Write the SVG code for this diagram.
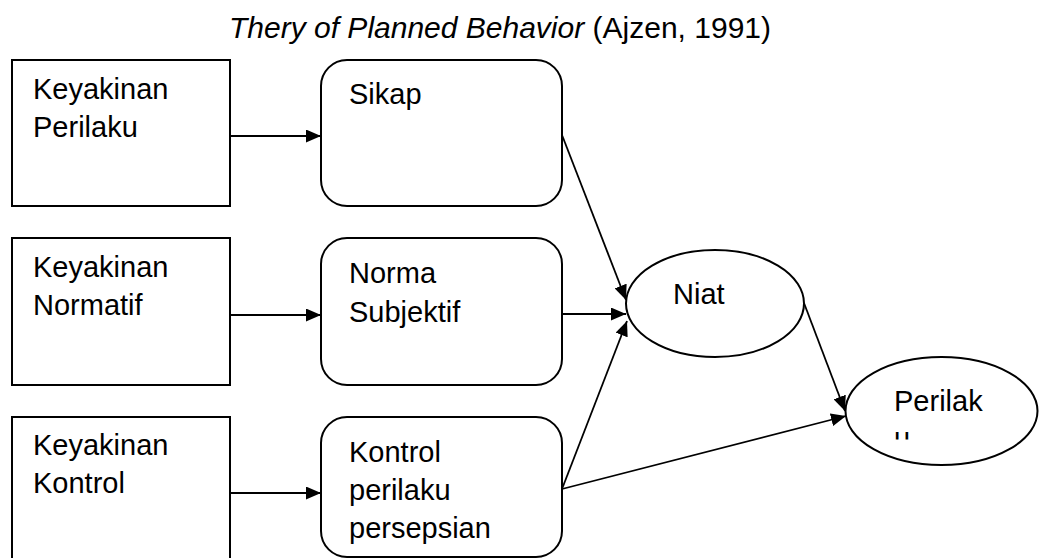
<svg xmlns="http://www.w3.org/2000/svg" width="1040" height="558" viewBox="0 0 1040 558">
<style>
  text { font-family: "Liberation Sans", Arial, sans-serif; font-size: 29px; fill: #000; }
  .title { font-size: 30px; }
  .box { fill: #fff; stroke: #000; stroke-width: 2; }
  .conn { stroke: #000; stroke-width: 1.8; fill: none; marker-end: url(#arrow); }
</style>
<defs>
  <marker id="arrow" markerUnits="userSpaceOnUse" markerWidth="16" markerHeight="13" refX="15" refY="6.5" orient="auto">
    <path d="M0,0 L15,6.5 L0,13 z" fill="#000"/>
  </marker>
  <clipPath id="clipU"><rect x="880" y="420" width="40" height="19.5"/></clipPath>
</defs>
<rect width="1040" height="558" fill="#fff"/>

<g id="title">
  <text class="title" x="229" y="38"><tspan font-style="italic">Thery of Planned Behavior</tspan> (Ajzen, 1991)</text>
</g>

<g id="keyakinan-perilaku">
  <rect class="box" x="12" y="60" width="218" height="146"/>
  <text x="33" y="99">Keyakinan</text>
  <text x="33" y="137">Perilaku</text>
</g>
<g id="keyakinan-normatif">
  <rect class="box" x="12" y="238" width="218" height="147"/>
  <text x="33" y="277">Keyakinan</text>
  <text x="33" y="315">Normatif</text>
</g>
<g id="keyakinan-kontrol">
  <rect class="box" x="12" y="417" width="218" height="150"/>
  <text x="33" y="455">Keyakinan</text>
  <text x="33" y="493">Kontrol</text>
</g>

<g id="sikap">
  <rect class="box" x="321" y="60" width="241" height="146" rx="26" ry="26"/>
  <text x="349" y="104">Sikap</text>
</g>
<g id="norma-subjektif">
  <rect class="box" x="321" y="238" width="241" height="147" rx="26" ry="26"/>
  <text x="349" y="283">Norma</text>
  <text x="349" y="322">Subjektif</text>
</g>
<g id="kontrol-perilaku">
  <rect class="box" x="321" y="417" width="241" height="140" rx="26" ry="26"/>
  <text x="349" y="462">Kontrol</text>
  <text x="349" y="500">perilaku</text>
  <text x="349" y="538">persepsian</text>
</g>

<g id="niat">
  <ellipse class="box" cx="715" cy="303.5" rx="89" ry="53.5"/>
  <text x="673" y="304">Niat</text>
</g>
<g id="perilaku">
  <ellipse class="box" cx="941.5" cy="411" rx="96" ry="54"/>
  <text x="894" y="411">Perilak</text>
  <text x="894" y="448" clip-path="url(#clipU)">u</text>
</g>

<g id="connectors">
  <line class="conn" x1="230" y1="136" x2="321" y2="136"/>
  <line class="conn" x1="230" y1="315" x2="321" y2="315"/>
  <line class="conn" x1="230" y1="493" x2="321" y2="493"/>
  <line class="conn" x1="562" y1="135" x2="626" y2="300"/>
  <line class="conn" x1="562" y1="314" x2="626" y2="314"/>
  <line class="conn" x1="562" y1="489" x2="627" y2="321"/>
  <line class="conn" x1="562" y1="489" x2="846" y2="416"/>
  <line class="conn" x1="804" y1="303" x2="845" y2="411"/>
</g>
</svg>
